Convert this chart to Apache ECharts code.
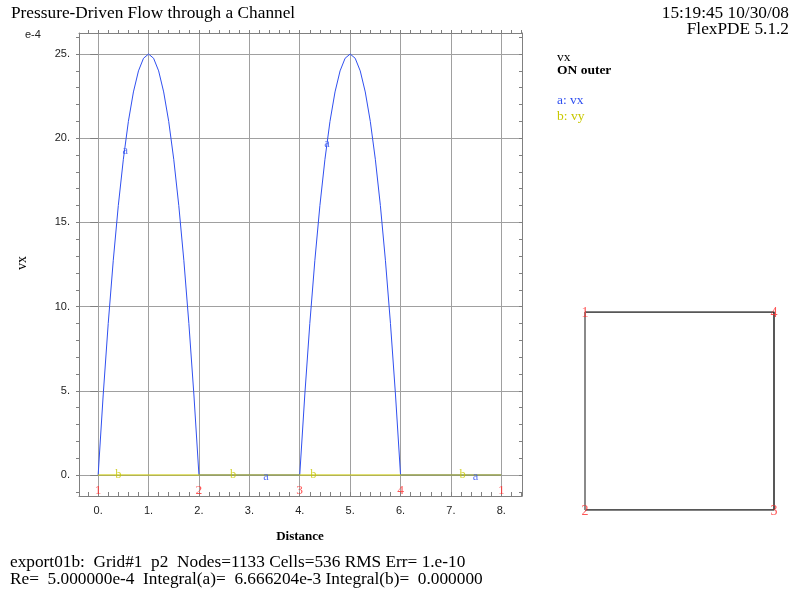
<!DOCTYPE html>
<html>
<head>
<meta charset="utf-8">
<script src="https://cdn.jsdelivr.net/npm/echarts@6/dist/echarts.min.js"></script>
<style>
html, body { margin: 0; padding: 0; background: #fff; }
#chart { width: 791px; height: 594px; }
</style>
</head>
<body>
<div id="chart"></div>
<script>
// vx along the outer boundary (units of 1e-4)
const distance = [
  0, 0.1, 0.2, 0.3, 0.4, 0.5, 0.6, 0.7, 0.8, 0.9, 1.0,
  1.1, 1.2, 1.3, 1.4, 1.5, 1.6, 1.7, 1.8, 1.9, 2.0,
  3.0,
  4.0, 4.1, 4.2, 4.3, 4.4, 4.5, 4.6, 4.7, 4.8, 4.9, 5.0,
  5.1, 5.2, 5.3, 5.4, 5.5, 5.6, 5.7, 5.8, 5.9, 6.0,
  7.0, 8.0
]
const vx = [
  0, 4.75, 9.0, 12.75, 16.0, 18.75, 21.0, 22.75, 24.0, 24.75, 25.0,
  24.75, 24.0, 22.75, 21.0, 18.75, 16.0, 12.75, 9.0, 4.75, 0,
  0,
  0, 4.75, 9.0, 12.75, 16.0, 18.75, 21.0, 22.75, 24.0, 24.75, 25.0,
  24.75, 24.0, 22.75, 21.0, 18.75, 16.0, 12.75, 9.0, 4.75, 0,
  0, 0
]
const vyDistance = [0, 8]
const vy = [0, 0]

const xTicks = [0, 1, 2, 3, 4, 5, 6, 7, 8]
const yTicks = [0, 5, 10, 15, 20, 25]

// curve labels
const aLabelDistance = [0.54, 3.33, 4.54, 7.49]
const aLabelValue = [19.4, 0, 19.8, 0]
const bLabelDistance = [0.40, 2.68, 4.27, 7.23]
const bLabelValue = [0, 0, 0, 0]

// boundary nodes
const nodeDistance = [0, 2, 4, 6, 8]
const nodeValue = [0, 0, 0, 0, 0]
const nodeNames = ['1', '2', '3', '4', '1']

// domain outline
const boxX = [0, 2, 2, 0]
const boxY = [0, 0, 2, 2]
const leftEdgeX = [0, 0]
const leftEdgeY = [2, 0]
const cornerX = [0, 0, 2, 2]
const cornerY = [2, 0, 0, 2]
const cornerNames = ['1', '2', '3', '4']

const xMin = -0.38
const xMax = 8.41
const yMin = -1.25
const yMax = 26.25

const xMinor = []
for (let i = -1; i <= 42; i++) xMinor.push(Math.round(i * 2) / 10)
const yMinor = []
for (let i = -1; i <= 26; i++) yMinor.push(i)

const frame = '#808080'
const gridColor = '#a0a0a0'
const blue = '#3050f0'
const yellow = '#c8c800'
const red = '#ff2a2a'
const serif = '"Liberation Serif", "DejaVu Serif", serif'
const sans = '"Liberation Sans", Arial, sans-serif'

const chart = echarts.init(document.getElementById('chart'))

function text(x, y, str, opts) {
  return {
    type: 'text',
    x: x,
    y: y,
    silent: true,
    style: Object.assign({
      text: str,
      fontFamily: serif,
      fontSize: 17.3,
      fill: '#000',
      align: 'left',
      verticalAlign: 'middle',
      textAlign: 'left',
      textVerticalAlign: 'middle'
    }, opts || {})
  }
}

function labelSeries(xs, ys, names, color, offset, axisIndex, fontSize) {
  return {
    type: 'scatter',
    xAxisIndex: axisIndex,
    yAxisIndex: axisIndex,
    symbol: 'circle',
    symbolSize: 1,
    clip: false,
    itemStyle: { color: 'transparent' },
    silent: true,
    z: 5,
    data: xs.map((d, i) => [d, ys[i], names[i]]),
    label: {
      show: true,
      position: 'inside',
      offset: offset,
      formatter: p => p.value[2],
      color: color,
      fontFamily: serif,
      fontSize: fontSize
    }
  }
}

chart.setOption({
  animation: false,
  backgroundColor: '#fff',
  grid: [
    { left: 79, top: 33, width: 443, height: 463 },
    { left: 585, top: 312, width: 189, height: 198 }
  ],
  xAxis: [
    {
      gridIndex: 0, type: 'value', min: xMin, max: xMax, position: 'bottom',
      axisLine: { show: true, onZero: false, lineStyle: { color: frame } },
      axisTick: { show: true, inside: true, length: 4, customValues: xMinor, lineStyle: { color: frame } },
      axisLabel: { show: false },
      splitLine: { show: false }
    },
    {
      gridIndex: 0, type: 'value', min: xMin, max: xMax, position: 'bottom',
      axisLine: { show: false },
      axisTick: { show: false, customValues: xTicks },
      axisLabel: {
        customValues: xTicks,
        formatter: v => v + '.',
        margin: 9,
        color: '#222',
        fontFamily: sans,
        fontSize: 11
      },
      splitLine: { show: true, lineStyle: { color: gridColor, width: 1 } }
    },
    {
      gridIndex: 0, type: 'value', min: xMin, max: xMax, position: 'top',
      axisLine: { show: true, onZero: false, lineStyle: { color: frame } },
      axisTick: { show: true, inside: false, length: 3, customValues: xMinor, lineStyle: { color: frame } },
      axisLabel: { show: false },
      splitLine: { show: false }
    },
    {
      gridIndex: 1, type: 'value', min: 0, max: 2, show: false
    }
  ],
  yAxis: [
    {
      gridIndex: 0, type: 'value', min: yMin, max: yMax, position: 'left',
      axisLine: { show: true, onZero: false, lineStyle: { color: frame } },
      axisTick: { show: true, inside: false, length: 3, customValues: yMinor, lineStyle: { color: frame } },
      axisLabel: { show: false },
      splitLine: { show: false }
    },
    {
      gridIndex: 0, type: 'value', min: yMin, max: yMax, position: 'left',
      axisLine: { show: false },
      axisTick: { show: true, inside: false, length: 8, customValues: yTicks, lineStyle: { color: frame } },
      axisLabel: {
        customValues: yTicks,
        formatter: v => v + '.',
        margin: 9,
        color: '#222',
        fontFamily: sans,
        fontSize: 11
      },
      splitLine: { show: true, lineStyle: { color: gridColor, width: 1 } }
    },
    {
      gridIndex: 0, type: 'value', min: yMin, max: yMax, position: 'right',
      axisLine: { show: true, onZero: false, lineStyle: { color: frame } },
      axisTick: { show: true, inside: true, length: 3, customValues: yMinor, lineStyle: { color: frame } },
      axisLabel: { show: false },
      splitLine: { show: false }
    },
    {
      gridIndex: 1, type: 'value', min: 0, max: 2, show: false
    }
  ],
  series: [
    {
      name: 'vx',
      type: 'line',
      xAxisIndex: 0,
      yAxisIndex: 0,
      showSymbol: false,
      z: 3,
      lineStyle: { color: blue, width: 1 },
      data: distance.map((d, i) => [d, vx[i]])
    },
    {
      name: 'vy',
      type: 'line',
      xAxisIndex: 0,
      yAxisIndex: 0,
      showSymbol: false,
      z: 4,
      lineStyle: { color: yellow, width: 1 },
      data: vyDistance.map((d, i) => [d, vy[i]])
    },
    labelSeries(aLabelDistance, aLabelValue, aLabelDistance.map(() => 'a'), blue, [0, 2], 0, 12.5),
    labelSeries(bLabelDistance, bLabelValue, bLabelDistance.map(() => 'b'), yellow, [0, 0], 0, 12.5),
    labelSeries(nodeDistance, nodeValue, nodeNames, red, [0, 15], 0, 13.5),
    {
      type: 'line',
      xAxisIndex: 3,
      yAxisIndex: 3,
      showSymbol: false,
      silent: true,
      z: 2,
      lineStyle: { color: '#202020', width: 1.5 },
      data: boxX.map((x, i) => [x, boxY[i]])
    },
    {
      type: 'line',
      xAxisIndex: 3,
      yAxisIndex: 3,
      showSymbol: false,
      silent: true,
      z: 3,
      lineStyle: { color: '#8a8a8a', width: 2 },
      data: leftEdgeX.map((x, i) => [x, leftEdgeY[i]])
    },
    labelSeries(cornerX, cornerY, cornerNames, red, [0, 1], 3, 14)
  ],
  graphic: [
    text(11, 13, 'Pressure-Driven Flow through a Channel'),
    text(789, 13, '15:19:45 10/30/08', { align: 'right', textAlign: 'right' }),
    text(789, 29, 'FlexPDE 5.1.2', { align: 'right', textAlign: 'right' }),
    text(557, 57, 'vx', { fontSize: 13.5 }),
    text(557, 71, 'ON outer', { fontSize: 13.5, fontWeight: 'bold' }),
    text(557, 100, 'a: vx', { fontSize: 13.5, fill: blue }),
    text(557, 116, 'b: vy', { fontSize: 13.5, fill: yellow }),
    text(25, 35, 'e-4', { fontFamily: sans, fontSize: 11, fill: '#222' }),
    {
      type: 'text',
      x: 22,
      y: 263,
      rotation: Math.PI / 2,
      silent: true,
      style: {
        text: 'vx', fontFamily: serif, fontSize: 14, fill: '#000',
        align: 'center', verticalAlign: 'middle', textAlign: 'center', textVerticalAlign: 'middle'
      }
    },
    text(300, 537, 'Distance', { fontSize: 13, fontWeight: 'bold', align: 'center', textAlign: 'center' }),
    text(10, 562, 'export01b:  Grid#1  p2  Nodes=1133 Cells=536 RMS Err= 1.e-10'),
    text(10, 579, 'Re=  5.000000e-4  Integral(a)=  6.666204e-3 Integral(b)=  0.000000')
  ]
})
</script>
</body>
</html>
